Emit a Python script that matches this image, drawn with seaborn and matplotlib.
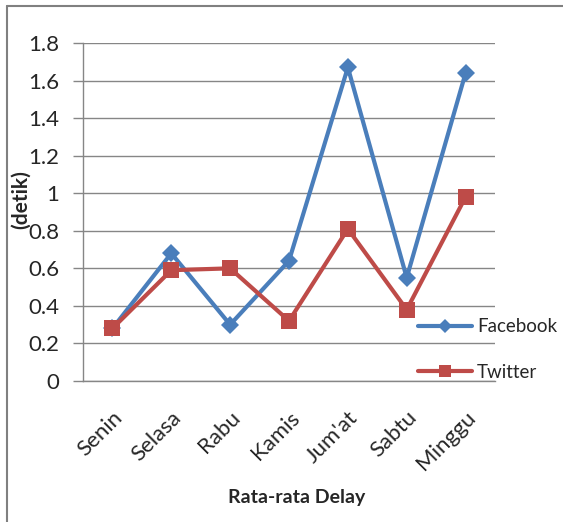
import pandas as pd
import matplotlib
matplotlib.use('Agg')
import matplotlib.pyplot as plt
import seaborn as sns
from matplotlib.lines import Line2D

# Data
hari = ['Senin', 'Selasa', 'Rabu', 'Kamis', "Jum'at", 'Sabtu', 'Minggu']
facebook = [0.28, 0.68, 0.30, 0.64, 1.67, 0.55, 1.64]
twitter = [0.28, 0.59, 0.60, 0.32, 0.81, 0.38, 0.98]

df = pd.DataFrame({
    'Hari': hari * 2,
    'Delay': facebook + twitter,
    'Media': ['Facebook'] * len(hari) + ['Twitter'] * len(hari),
})

sns.set_style('white')
plt.rcParams['font.family'] = ['Lato', 'DejaVu Sans']

grey = '#868686'
fig = plt.figure(figsize=(5.63, 5.22), dpi=100)
ax = fig.add_axes([83 / 563, 1 - 381 / 522, 412 / 563, 338 / 522])

sns.lineplot(data=df, x='Hari', y='Delay', hue='Media', style='Media',
             markers={'Facebook': 'D', 'Twitter': 's'}, dashes=False,
             palette={'Facebook': '#4A7EBB', 'Twitter': '#BE4B48'},
             sort=False, linewidth=3, markersize=9, markeredgewidth=0, ax=ax)
# bigger squares for Twitter
for line in ax.get_lines():
    if line.get_marker() == 's':
        line.set_markersize(12)

ax.set_ylim(0, 1.8)
ax.set_xlim(-0.5, 6.5)
ax.set_yticks([0, 0.2, 0.4, 0.6, 0.8, 1, 1.2, 1.4, 1.6, 1.8])
ax.set_yticklabels(['0', '0.2', '0.4', '0.6', '0.8', '1', '1.2', '1.4', '1.6', '1.8'],
                   fontsize=16)
ax.yaxis.grid(True, color=grey, linewidth=1)
ax.set_axisbelow(True)

ax.set_xticks(range(len(hari)))
ax.set_xticklabels(hari, rotation=45, ha='right', rotation_mode='anchor', fontsize=16)
ax.set_xticks([i - 0.5 for i in range(len(hari) + 1)], minor=True)
ax.tick_params(axis='x', which='major', length=0, pad=19)
ax.tick_params(axis='x', which='minor', length=6, color=grey, width=1, direction='out')
ax.tick_params(axis='y', length=7, color=grey, width=1, direction='out', left=True, pad=10)

for s in ['top', 'right']:
    ax.spines[s].set_visible(False)
for s in ['left', 'bottom']:
    ax.spines[s].set_color(grey)
    ax.spines[s].set_linewidth(1)

ax.set_xlabel('Rata-rata Delay', fontsize=14, fontweight='bold')
ax.xaxis.set_label_coords((296.5 - 83) / 412, (381 - 498) / 338)
ax.xaxis.label.set_va('center')
ax.set_ylabel('')
fig.text(21 / 563, 1 - 200 / 522, '(detik)', rotation=90, fontsize=15,
         fontweight='bold', ha='center', va='center')

handles, labels = ax.get_legend_handles_labels()
leg = ax.legend(handles, labels, loc='center left', bbox_to_anchor=(418 / 563, 1 - 349.5 / 522),
                bbox_transform=fig.transFigure, frameon=False, fontsize=13.5,
                handlelength=2.88, labelspacing=1.5, handletextpad=0.27,
                borderpad=0, borderaxespad=0)
for h in leg.legend_handles:
    h.set_markersize(8 if h.get_marker() == 's' else 7)

# page frame around the chart (left and top edges)
fig.lines.append(Line2D([7 / 563, 7 / 563], [0, 1 - 6 / 522], transform=fig.transFigure,
                        color='#808080', linewidth=1.5))
fig.lines.append(Line2D([7 / 563, 1], [1 - 6 / 522, 1 - 6 / 522], transform=fig.transFigure,
                        color='#808080', linewidth=1.5))

fig.savefig('out.png', dpi=100)
